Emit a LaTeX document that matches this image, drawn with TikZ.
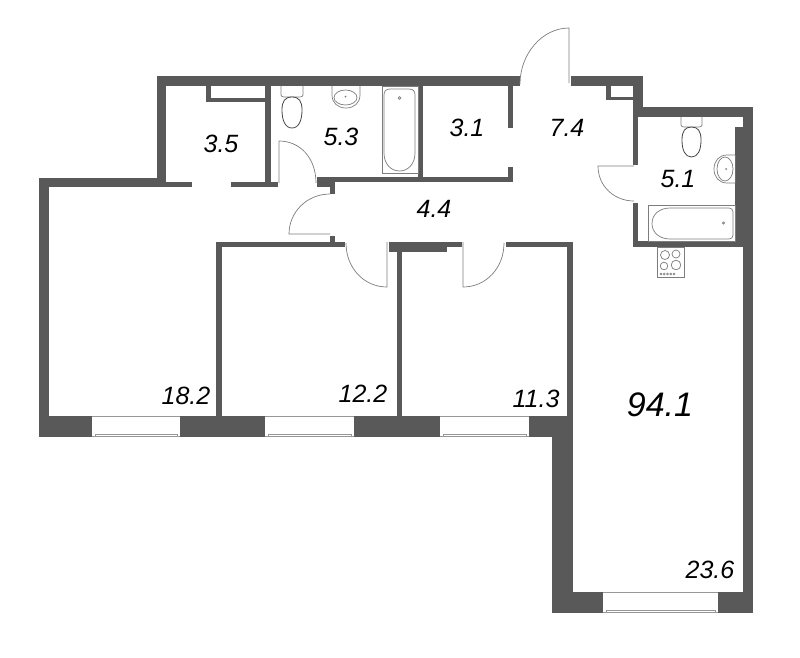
\documentclass[tikz,border=0pt]{standalone}
\usepackage{fontspec}
\setmainfont{Liberation Sans}
\definecolor{wallgray}{RGB}{89,89,89}
\definecolor{linegray}{RGB}{125,125,125}
\definecolor{bowlgray}{RGB}{70,70,70}
\tikzset{
  wall/.style={fill=wallgray,draw=none},
  fixture/.style={draw=linegray,line width=0.7pt,fill=white},
  bowl/.style={draw=bowlgray,line width=0.8pt,fill=white},
  doorline/.style={draw=linegray,line width=0.7pt},
  glass/.style={draw=linegray!80,line width=0.6pt},
  area/.style={font=\itshape\fontsize{25}{25}\selectfont,inner sep=0pt,text=black},
}
\begin{document}
\begin{tikzpicture}[x=1pt,y=-1pt]
\useasboundingbox (0,0) rectangle (800,657);
% walls
\foreach \xa/\ya/\xb/\yb in {
  157/76/520/86, 157/76/166/187, 39/178/166/187, 39/178/49/437, 166/182/192/187,
  231/182/278/187, 265/86/271/187, 206/86/211/102, 206/98/265/102,
  317/177/335/187, 335/177/513/182, 330/177/335/194, 330/236/335/247,
  418/86/423/182, 508/86/513/128, 508/167/513/182,
  216/242/345/247, 216/242/222/416, 397/247/402/416,
  389/242/447/252, 447/242/462/247, 506/242/573/247, 567/242/573/416,
  571/76/643/86, 633/76/643/117, 606/86/611/100, 606/97/633/100,
  633/107/753/117, 633/117/638/165, 633/203/638/247, 633/241/743/247,
  743/107/753/613, 735/127/743/241,
  39/416/92/437, 180/416/265/437, 354/416/440/437, 529/416/573/437,
  552/437/573/613, 552/592/603/613, 718/592/753/613}
  \fill[wall](\xa,\ya)rectangle(\xb,\yb);
% windows
\foreach \xa/\xb/\ya in {92/180/416, 265/354/416, 440/529/416, 603/718/592}{
  \draw[glass](\xa,\ya)--(\xb,\ya);
  \draw[glass](\xa+3,\ya+18)--(\xb-3,\ya+18);
  \draw[glass](\xa,\ya+20.5)--(\xb,\ya+20.5);
  \draw[glass](\xa+3,\ya+18)--(\xa+3,\ya+20.5);
  \draw[glass](\xb-3,\ya+18)--(\xb-3,\ya+20.5);
}
% doors
\draw[doorline](279,183)--(279,141).. controls (300,141) and (316,158) ..(316,183);
\draw[doorline](330,194).. controls (307,194) and (289,212) ..(289,234)--(330,234);
\draw[doorline](346,243).. controls (346,268) and (364,287) ..(387,287)--(387,242);
\draw[doorline](504,243).. controls (504,268) and (486,287) ..(463,287)--(463,242);
\draw[doorline](520,84).. controls (520,54) and (542,28) ..(569,28)--(569,83);
\draw[doorline](634,166)--(598,166).. controls (598,186) and (614,201) ..(634,201);
% bathroom 5.3
\draw[fixture](281,86)--(281,95).. controls (281,96) and (282,97) ..(284,97)--(300,97).. controls (302,97) and (303,96) ..(303,95)--(303,86);
\draw[bowl](292,128).. controls (285,128) and (282,120) ..(282,110).. controls (282,101) and (285,97) ..(292,97).. controls (299,97) and (302,101) ..(302,110).. controls (302,120) and (299,128) ..(292,128)--cycle;
\draw[fixture](332,86)--(332,95).. controls (332,103) and (338,108) ..(346,108).. controls (354,108) and (360,103) ..(360,95)--(360,86);
\draw[fixture](345.5,97.5)ellipse[x radius=11.5,y radius=7.5];
\fill[linegray](345.5,96.5)circle[radius=1];
\draw[fixture](382,86)rectangle(418,173);
\draw[fixture](390,89)--(409,89).. controls (413,89) and (415,91) ..(415,95)--(415,153).. controls (415,164) and (408,171) ..(399.5,171).. controls (391,171) and (384,164) ..(384,153)--(384,95).. controls (384,91) and (386,89) ..(390,89)--cycle;
\draw[doorline](399.5,98)circle[radius=1.3];
% bathroom 5.1
\draw[fixture](681,117)--(681,125).. controls (681,126) and (682,127) ..(684,127)--(699,127).. controls (701,127) and (702,126) ..(702,125)--(702,117);
\draw[bowl](691.5,157).. controls (685,157) and (682,150) ..(682,140).. controls (682,131) and (685,127) ..(691.5,127).. controls (698,127) and (701,131) ..(701,140).. controls (701,150) and (698,157) ..(691.5,157)--cycle;
\draw[fixture](735,155)--(727,155).. controls (719,155) and (714,161) ..(714,169).. controls (714,177) and (719,183) ..(727,183)--(735,183);
\draw[fixture](725,169)ellipse[x radius=8,y radius=12];
\fill[linegray](726,169)circle[radius=1];
\draw[fixture](648,205)rectangle(735,241);
\draw[fixture](670,208)--(729,208).. controls (731.5,208) and (733,209.5) ..(733,212)--(733,235).. controls (733,237.5) and (731.5,239) ..(729,239)--(670,239).. controls (660,239) and (652,233) ..(652,223.5).. controls (652,214) and (660,208) ..(670,208)--cycle;
\draw[doorline](723.5,223)circle[radius=1.2];
% stove
\draw[fixture](657,247)rectangle(684,277);
\foreach \cx/\cy/\cr in {665/255/4.5, 676/254/4, 664/266/3.8, 676/265/4.8}
  \draw[doorline](\cx,\cy)circle[radius=\cr];
\foreach \cx in {661,664.2,667.5,670.8,674}
  \draw[doorline,line width=0.5pt](\cx,274)circle[radius=1];
% labels
\node[area](a1)at(221,144){3.5};
\node[area](a2)at(341,137){5.3};
\node[area](a3)at(467,128){3.1};
\node[area](a4)at(567,128){7.4};
\node[area](a5)at(678,179){5.1};
\node[area](a6)at(434,209){4.4};
\node[area](a7)at(186,396){18.2};
\node[area](a8)at(363,394){12.2};
\node[area](a9)at(536,399){11.3};
\node[area](a10)at(710,570){23.6};
\node[area,font=\itshape\fontsize{34}{34}\selectfont](total)at(660,405){94.1};
\end{tikzpicture}
\end{document}
